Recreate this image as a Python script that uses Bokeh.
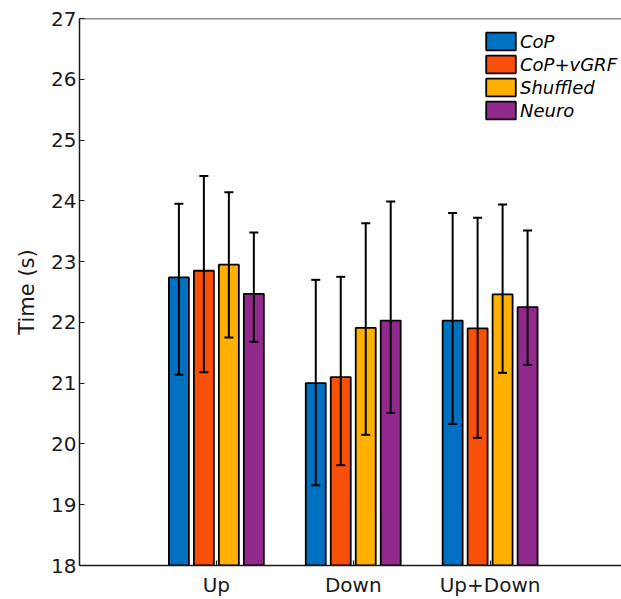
from bokeh.plotting import figure
from bokeh.models import (ColumnDataSource, Whisker, TeeHead, FixedTicker, Range1d,
                          Span, Legend, LegendItem)
from bokeh.embed import file_html
from bokeh.resources import INLINE

groups = ["Up", "Down", "Up+Down"]
series = ["CoP", "CoP+vGRF", "Shuffled", "Neuro"]
colors = ["#0070C0", "#F85009", "#FFB000", "#912A8C"]

mean_cop = [22.74, 21.00, 22.03]
mean_vgrf = [22.85, 21.10, 21.90]
mean_shuf = [22.95, 21.91, 22.46]
mean_neuro = [22.47, 22.03, 22.25]

upper_cop = [23.95, 22.70, 23.80]
upper_vgrf = [24.41, 22.75, 23.72]
upper_shuf = [24.14, 23.63, 23.94]
upper_neuro = [23.48, 23.99, 23.51]

lower_cop = [21.14, 19.32, 20.33]
lower_vgrf = [21.18, 19.65, 20.10]
lower_shuf = [21.75, 20.15, 21.17]
lower_neuro = [21.68, 20.51, 21.30]

y_ticks = [18, 19, 20, 21, 22, 23, 24, 25, 26, 27]

means = [mean_cop, mean_vgrf, mean_shuf, mean_neuro]
uppers = [upper_cop, upper_vgrf, upper_shuf, upper_neuro]
lowers = [lower_cop, lower_vgrf, lower_shuf, lower_neuro]

FONT = "DejaVu Sans"
AX = "#1a1a1a"

p = figure(width=621, height=599, output_backend="svg", toolbar_location=None,
           x_range=Range1d(0, 3.96), y_range=Range1d(18, 27),
           min_border_left=79, min_border_right=0, min_border_top=18, min_border_bottom=34)
p.outline_line_color = None
p.grid.visible = False
p.background_fill_color = "white"
p.border_fill_color = "white"

centers = [1, 2, 3]
step = 0.1825
width = 0.146
offsets = [-1.5 * step, -0.5 * step, 0.5 * step, 1.5 * step]

items = []
for i, name in enumerate(series):
    xs = [c + offsets[i] for c in centers]
    src = ColumnDataSource(dict(x=xs, top=means[i], upper=uppers[i], lower=lowers[i]))
    r = p.vbar(x="x", top="top", bottom=18, width=width, source=src,
               fill_color=colors[i], line_color="black", line_width=1.8)
    items.append(LegendItem(label=name, renderers=[r]))
    w = Whisker(base="x", upper="upper", lower="lower", source=src, dimension="height",
                line_color="black", line_width=2, level="overlay",
                upper_head=TeeHead(size=9, line_width=2, line_color="black"),
                lower_head=TeeHead(size=9, line_width=2, line_color="black"))
    p.add_layout(w)

p.add_layout(Span(location=27, dimension="width", line_color=AX, line_width=1.5))

# y axis
p.yaxis.ticker = FixedTicker(ticks=y_ticks)
p.yaxis.axis_label = "Time (s)"
p.yaxis.axis_label_text_font = FONT
p.yaxis.axis_label_text_font_size = "21px"
p.yaxis.axis_label_text_font_style = "normal"
p.yaxis.axis_label_text_color = AX
p.yaxis.axis_label_standoff = 9
p.yaxis.major_label_text_font = FONT
p.yaxis.major_label_text_font_size = "20px"
p.yaxis.major_label_text_color = AX
p.yaxis.major_label_standoff = 3
p.yaxis.major_tick_in = 5
p.yaxis.major_tick_out = 0
p.yaxis.minor_tick_line_color = None

# x axis
p.xaxis.ticker = FixedTicker(ticks=centers)
p.xaxis.major_label_overrides = {c: g for c, g in zip(centers, groups)}
p.xaxis.major_label_text_font = FONT
p.xaxis.major_label_text_font_size = "20px"
p.xaxis.major_label_text_color = AX
p.xaxis.major_label_standoff = 7
p.xaxis.major_tick_in = 5
p.xaxis.major_tick_out = 0
p.xaxis.minor_tick_line_color = None

for ax in (p.xaxis, p.yaxis):
    ax.axis_line_color = AX
    ax.axis_line_width = 1.5
    ax.major_tick_line_color = AX
    ax.major_tick_line_width = 1.2

legend = Legend(items=items, location=(403, 444))
legend.label_text_font = FONT
legend.label_text_font_style = "italic"
legend.label_text_font_size = "18px"
legend.label_text_color = "black"
legend.glyph_width = 37
legend.glyph_height = 22
legend.label_standoff = 1
legend.spacing = 1
legend.padding = 5
legend.margin = 0
legend.border_line_color = None
legend.background_fill_color = "white"
legend.background_fill_alpha = 1
p.add_layout(legend, "center")

open("out.html", "w").write(file_html(p, INLINE))
